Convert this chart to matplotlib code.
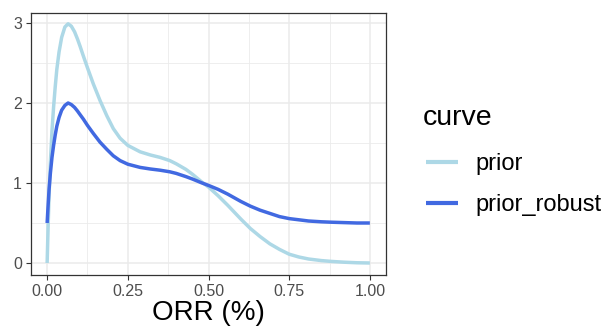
import numpy as np
import matplotlib
matplotlib.use('Agg')
import matplotlib.pyplot as plt

# values
orr = [0, 0.003, 0.006, 0.01, 0.015, 0.02, 0.025, 0.03, 0.037, 0.045,
       0.055, 0.065, 0.075, 0.085, 0.094, 0.102, 0.112, 0.125, 0.143, 0.164,
       0.185, 0.205, 0.226, 0.25, 0.288, 0.32, 0.35, 0.38, 0.40,
       0.43, 0.45, 0.48, 0.50, 0.53, 0.56, 0.60, 0.63, 0.66, 0.69,
       0.72, 0.75, 0.78, 0.81, 0.85, 0.88, 0.92, 0.96, 1.00]
prior = [0, 0.45, 0.85, 1.25, 1.65, 1.95, 2.20, 2.42, 2.64, 2.82,
         2.95, 2.99, 2.96, 2.89, 2.80, 2.71, 2.59, 2.44, 2.24, 2.03,
         1.84, 1.68, 1.56, 1.47, 1.39, 1.35, 1.32, 1.28, 1.24,
         1.17, 1.11, 1.01, 0.95, 0.84, 0.72, 0.55, 0.43, 0.33, 0.24,
         0.17, 0.11, 0.075, 0.05, 0.03, 0.02, 0.01, 0.003, 0]
prior_robust = [0.50, 0.72, 0.92, 1.12, 1.32, 1.47, 1.60, 1.71, 1.82, 1.91,
                1.97, 2.00, 1.98, 1.945, 1.90, 1.855, 1.80, 1.72, 1.62, 1.51,
                1.42, 1.34, 1.28, 1.235, 1.195, 1.175, 1.16, 1.14, 1.12,
                1.08, 1.05, 1.00, 0.97, 0.92, 0.86, 0.77, 0.71, 0.66, 0.62,
                0.58, 0.555, 0.54, 0.525, 0.515, 0.51, 0.505, 0.50, 0.50]

x_ticks = [0, 0.25, 0.5, 0.75, 1.0]
x_labels = ['0.00', '0.25', '0.50', '0.75', '1.00']
y_ticks = [0, 1, 2, 3]

plt.rcParams['font.family'] = ['Liberation Sans', 'DejaVu Sans']

W, H = 608, 329
fig = plt.figure(figsize=(W/100, H/100), dpi=100)
ax = fig.add_axes([31/W, 1 - 275/H, 355/W, 262/H])

ax.plot(orr, prior, color='#ADD8E6', lw=2.5, label='prior', solid_capstyle='butt')
ax.plot(orr, prior_robust, color='#4169E1', lw=2.5, label='prior_robust', solid_capstyle='butt')

ax.set_xlim(-0.05, 1.05)
ax.set_ylim(-0.15, 3.125)
ax.set_xticks(x_ticks)
ax.set_xticklabels(x_labels)
ax.set_yticks(y_ticks)
ax.set_xticks([0.125, 0.375, 0.625, 0.875], minor=True)
ax.set_yticks([0.5, 1.5, 2.5], minor=True)
ax.grid(which='major', color='#EBEBEB', lw=1.1)
ax.grid(which='minor', color='#EBEBEB', lw=0.6)
ax.set_axisbelow(True)
ax.tick_params(which='major', length=3.5, width=0.8, color='#333333',
               labelcolor='#4D4D4D', labelsize=11.5, pad=3)
ax.tick_params(which='minor', length=0)
for s in ax.spines.values():
    s.set_color('#333333')
    s.set_linewidth(0.9)

ax.set_xlabel('ORR (%)', fontsize=20, labelpad=1)

# legend title placed on its own, entries below it
fig.text(423/W, 1 - 125/H, 'curve', fontsize=20.5, ha='left', va='baseline')
leg = ax.legend(loc='upper left', bbox_to_anchor=(426/W, 1 - 153/H),
                bbox_transform=fig.transFigure, frameon=False, fontsize=17,
                handlelength=1.35, handletextpad=0.75, borderpad=0,
                borderaxespad=0, labelspacing=0.82)
for line in leg.get_lines():
    line.set_linewidth(3)

fig.savefig('out.png', dpi=100)
